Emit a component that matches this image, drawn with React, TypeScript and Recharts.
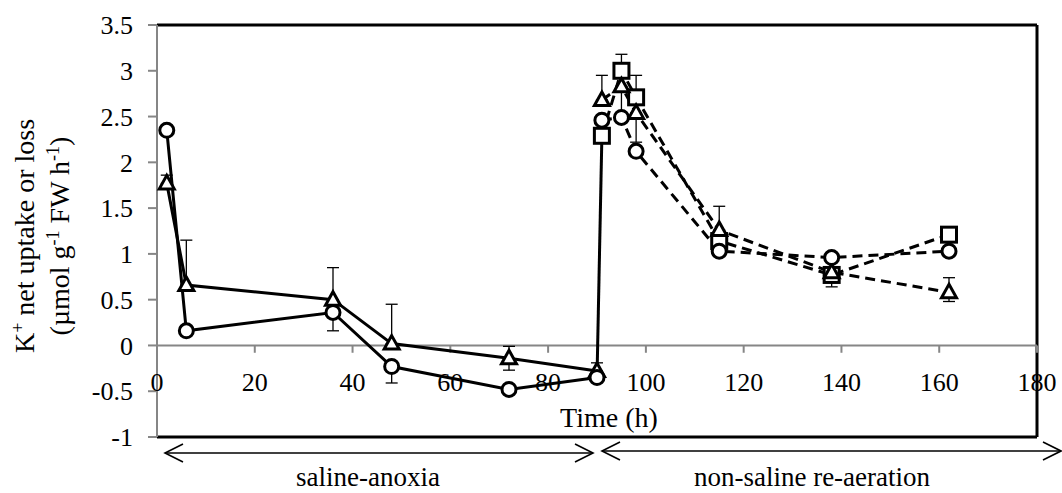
import { LineChart, Line, XAxis, YAxis, ReferenceLine, ErrorBar } from 'recharts';

const xTicks = [0, 20, 40, 60, 80, 100, 120, 140, 160, 180];
const yTicks = [-1, -0.5, 0, 0.5, 1, 1.5, 2, 2.5, 3, 3.5];

// saline-anoxia phase (solid lines); errors are [down, up]
const anoxiaHours = [2, 6, 36, 48, 72, 90];
const anoxiaCircle = [2.35, 0.16, 0.36, -0.23, -0.48, -0.35];
const anoxiaCircleErr = [[0, 0], [0, 0], [0.2, 0], [0.18, 0], [0, 0], [0, 0]];
const anoxiaTriangle = [1.77, 0.66, 0.5, 0.02, -0.14, -0.28];
const anoxiaTriangleErr = [[0, 0.09], [0, 0.49], [0, 0.35], [0, 0.43], [0.13, 0.13], [0, 0.09]];

// non-saline re-aeration phase (dashed lines)
const aerationHours = [91, 95, 98, 115, 138, 162];
const aerationCircle = [2.46, 2.49, 2.12, 1.03, 0.96, 1.03];
const aerationTriangle = [2.68, 2.83, 2.54, 1.26, 0.8, 0.58];
const aerationTriangleErr = [[0, 0.27], [0.3, 0], [0.32, 0], [0, 0.26], [0, 0], [0.1, 0.16]];
const aerationSquare = [2.29, 3.0, 2.71, 1.14, 0.77, 1.21];
const aerationSquareErr = [[0, 0], [0, 0.18], [0, 0.24], [0, 0], [0.13, 0], [0, 0]];

type Row = { t: number; v: number; e?: number[] };

const toRows = (hours: number[], vals: number[], errs?: number[][]): Row[] =>
  hours.map((t, i) => ({ t, v: vals[i], e: errs ? errs[i] : undefined }));

const anoxiaCircleRows = toRows(anoxiaHours, anoxiaCircle, anoxiaCircleErr);
const anoxiaTriangleRows = toRows(anoxiaHours, anoxiaTriangle, anoxiaTriangleErr);
const aerationCircleRows = toRows(aerationHours, aerationCircle);
const aerationTriangleRows = toRows(aerationHours, aerationTriangle, aerationTriangleErr);
const aerationSquareRows = toRows(aerationHours, aerationSquare, aerationSquareErr);

// solid jump from the end of anoxia to the first re-aeration reading
const switchRows: Row[] = [
  { t: anoxiaHours[anoxiaHours.length - 1], v: anoxiaCircle[anoxiaCircle.length - 1] },
  { t: aerationHours[0], v: aerationSquare[0] },
];

const FONT = "'Liberation Serif', 'Times New Roman', serif";
const AXIS_GREY = '#868686';
const DASH = '10 6';

const circleDot = { r: 7, fill: '#fff', stroke: '#000', strokeWidth: 3, strokeDasharray: 'none' };

const triangleDot = (props: any) => {
  const { cx, cy, index } = props;
  if (cx == null || cy == null) return <g key={`tri-${index}`} />;
  return (
    <path
      key={`tri-${index}`}
      d={`M${cx},${cy - 8}L${cx + 7.5},${cy + 5.5}L${cx - 7.5},${cy + 5.5}Z`}
      fill="#fff"
      stroke="#000"
      strokeWidth={3}
      strokeDasharray="none"
    />
  );
};

const squareDot = (props: any) => {
  const { cx, cy, index } = props;
  if (cx == null || cy == null) return <g key={`sq-${index}`} />;
  return (
    <rect
      key={`sq-${index}`}
      x={cx - 7.5}
      y={cy - 7.5}
      width={15}
      height={15}
      fill="#fff"
      stroke="#000"
      strokeWidth={3}
      strokeDasharray="none"
    />
  );
};

const errProps = { dataKey: 'e', width: 6, stroke: '#000', strokeWidth: 1.3, direction: 'y' as const };

const tickStyle = { fontSize: 26, fill: '#000', fontFamily: FONT };

const Arrow = ({ x1, x2, y }: { x1: number; x2: number; y: number }) => (
  <g stroke="#000" strokeWidth={1.6} fill="none">
    <line x1={x1} y1={y} x2={x2} y2={y} />
    <polyline points={`${x1 + 18},${y - 9} ${x1},${y} ${x1 + 18},${y + 9}`} />
    <polyline points={`${x2 - 18},${y - 9} ${x2},${y} ${x2 - 18},${y + 9}`} />
  </g>
);

export default function App() {
  return (
    <div
      style={{
        position: 'absolute',
        left: 0,
        top: 0,
        width: 1062,
        height: 493,
        background: '#fff',
        fontFamily: FONT,
      }}
    >
      <LineChart width={1062} height={493} margin={{ top: 25, right: 25, bottom: 26, left: 77 }}>
        <XAxis
          type="number"
          dataKey="t"
          domain={[0, 180]}
          ticks={xTicks}
          interval={0}
          axisLine={false}
          tickLine={false}
          height={30}
          tick={{ ...tickStyle, dy: -72 }}
          allowDuplicatedCategory={false}
        />
        <YAxis
          type="number"
          domain={[-1, 3.5]}
          ticks={yTicks}
          interval={0}
          width={80}
          axisLine={{ stroke: AXIS_GREY, strokeWidth: 2 }}
          tickLine={{ stroke: AXIS_GREY, strokeWidth: 2 }}
          tickSize={9}
          tickMargin={15}
          tick={tickStyle}
        />

        {/* frame on top, right and bottom */}
        <ReferenceLine y={3.5} stroke="#000" strokeWidth={3} />
        <ReferenceLine y={-1} stroke="#000" strokeWidth={3} />
        <ReferenceLine x={180} stroke="#000" strokeWidth={3} />

        {/* zero line acting as the time axis, ticks hang below it */}
        <ReferenceLine y={0} stroke={AXIS_GREY} strokeWidth={2} />
        {xTicks.slice(1).map((t) => (
          <ReferenceLine
            key={`xt-${t}`}
            segment={[{ x: t, y: 0 }, { x: t, y: -0.08 }]}
            stroke={AXIS_GREY}
            strokeWidth={2}
          />
        ))}

        <Line
          data={switchRows}
          dataKey="v"
          type="linear"
          stroke="#000"
          strokeWidth={3}
          dot={false}
          isAnimationActive={false}
        />

        <Line
          data={anoxiaTriangleRows}
          dataKey="v"
          type="linear"
          stroke="#000"
          strokeWidth={3}
          dot={triangleDot}
          isAnimationActive={false}
        >
          <ErrorBar {...errProps} />
        </Line>
        <Line
          data={anoxiaCircleRows}
          dataKey="v"
          type="linear"
          stroke="#000"
          strokeWidth={3}
          dot={circleDot}
          isAnimationActive={false}
        >
          <ErrorBar {...errProps} />
        </Line>

        <Line
          data={aerationSquareRows}
          dataKey="v"
          type="linear"
          stroke="#000"
          strokeWidth={3}
          strokeDasharray={DASH}
          dot={squareDot}
          isAnimationActive={false}
        >
          <ErrorBar {...errProps} />
        </Line>
        <Line
          data={aerationTriangleRows}
          dataKey="v"
          type="linear"
          stroke="#000"
          strokeWidth={3}
          strokeDasharray={DASH}
          dot={triangleDot}
          isAnimationActive={false}
        >
          <ErrorBar {...errProps} />
        </Line>
        <Line
          data={aerationCircleRows}
          dataKey="v"
          type="linear"
          stroke="#000"
          strokeWidth={3}
          strokeDasharray={DASH}
          dot={circleDot}
          isAnimationActive={false}
        />
      </LineChart>

      <svg
        width={1062}
        height={493}
        style={{ position: 'absolute', left: 0, top: 0, pointerEvents: 'none' }}
        fontFamily={FONT}
      >
        <text x={609} y={427} textAnchor="middle" fontSize={28} fill="#000" fontFamily={FONT}>
          Time (h)
        </text>

        <Arrow x1={165} x2={593} y={453} />
        <Arrow x1={602} x2={1061} y={451} />
        <text x={368} y={486} textAnchor="middle" fontSize={27} fill="#000" fontFamily={FONT}>
          saline-anoxia
        </text>
        <text x={812} y={486} textAnchor="middle" fontSize={27} fill="#000" fontFamily={FONT}>
          non-saline re-aeration
        </text>

        <g transform="rotate(-90)">
          <text x={-236} y={34} textAnchor="middle" fontSize={28} fill="#000" fontFamily={FONT}>
            K<tspan dy={-10} fontSize={18}>+</tspan>
            <tspan dy={10}> net uptake or loss</tspan>
          </text>
          <text x={-236} y={69} textAnchor="middle" fontSize={28} fill="#000" fontFamily={FONT}>
            (µmol g<tspan dy={-10} fontSize={18}>-1</tspan>
            <tspan dy={10}> FW h</tspan>
            <tspan dy={-10} fontSize={18}>-1</tspan>
            <tspan dy={10}>)</tspan>
          </text>
        </g>
      </svg>
    </div>
  );
}
